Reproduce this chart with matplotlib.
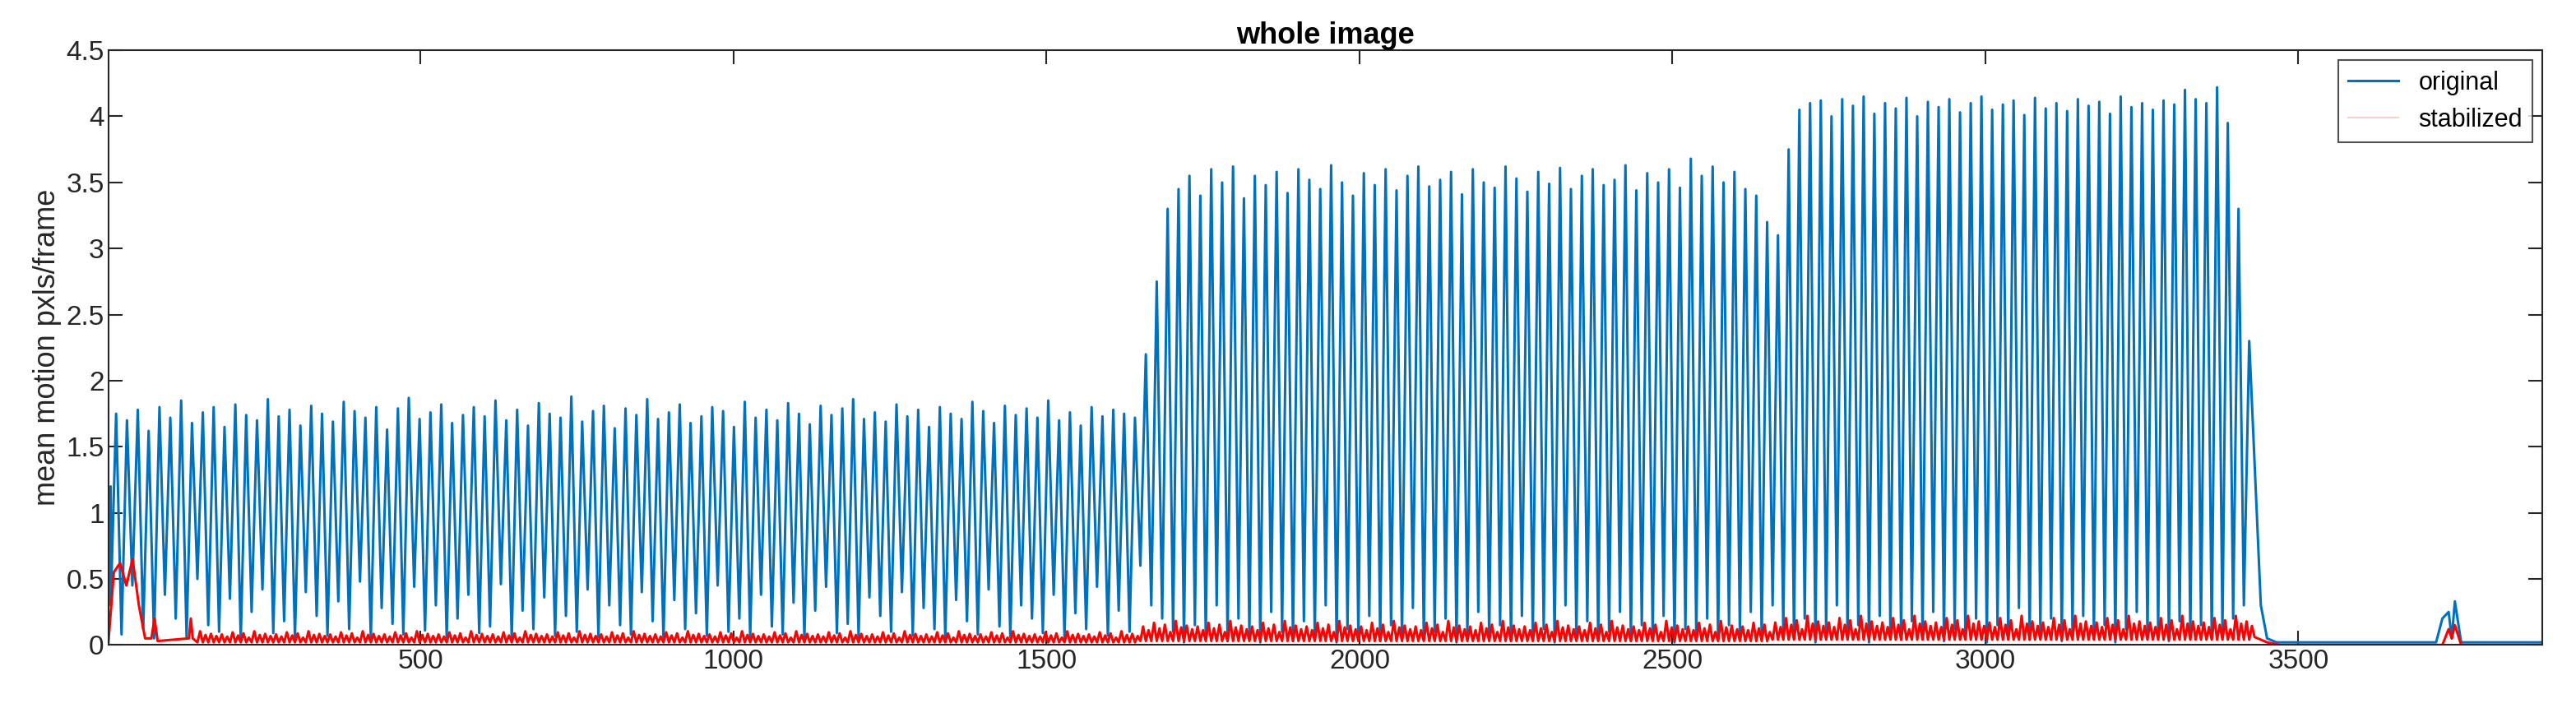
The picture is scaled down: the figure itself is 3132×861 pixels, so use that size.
import numpy as np
import matplotlib
matplotlib.use("Agg")
import matplotlib.pyplot as plt
from matplotlib.lines import Line2D

plt.rcParams['font.family'] = ['Liberation Sans', 'DejaVu Sans']

seg_bounds = [(5, 1650), (1650, 2660), (2660, 3430)]
seg1_peaks = [1.75,1.70,1.78,1.62,1.80,1.72,1.85,1.68,1.76,1.80,1.65,1.82,1.74,1.70,1.86,1.73,1.78,1.66,1.81,1.75,
1.69,1.84,1.77,1.72,1.80,1.63,1.79,1.87,1.71,1.76,1.82,1.68,1.74,1.80,1.73,1.85,1.70,1.78,1.66,1.83,
1.75,1.72,1.88,1.69,1.77,1.81,1.64,1.79,1.74,1.86,1.71,1.76,1.82,1.68,1.73,1.80,1.77,1.65,1.84,1.72,
1.78,1.70,1.83,1.75,1.67,1.81,1.74,1.79,1.86,1.71,1.76,1.69,1.82,1.73,1.78,1.65,1.80,1.75,1.71,1.84,
1.77,1.68,1.81,1.74,1.79,1.72,1.85,1.70,1.76,1.66,1.80,1.73,1.78,1.75,1.72]
seg1_troughs = [0.30,0.08,0.45,0.12,0.05,0.38,0.20,0.06,0.50,0.15,0.10,0.35,0.04,0.25,0.42,0.09,0.18,0.06,0.40,0.22,
0.07,0.33,0.12,0.48,0.05,0.28,0.16,0.08,0.44,0.11,0.30,0.06,0.20,0.38,0.09,0.14,0.46,0.05,0.26,0.12,
0.36,0.07,0.22,0.10,0.42,0.06,0.30,0.15,0.08,0.40,0.18,0.05,0.34,0.12,0.24,0.07,0.45,0.10,0.20,0.06,
0.38,0.14,0.08,0.32,0.05,0.26,0.44,0.09,0.16,0.06,0.36,0.22,0.10,0.40,0.07,0.28,0.12,0.05,0.34,0.18,
0.08,0.42,0.14,0.06,0.30,0.20,0.09,0.38,0.05,0.24,0.12,0.44,0.07,0.26,0.10]
seg2_peaks = [2.20,2.75,3.30,3.45,3.55,3.40,3.60,3.50,3.62,3.38,3.55,3.48,3.58,3.42,3.60,3.52,3.45,3.63,3.50,3.40,
3.57,3.48,3.60,3.44,3.55,3.62,3.47,3.52,3.58,3.41,3.60,3.50,3.46,3.62,3.53,3.43,3.58,3.49,3.61,3.45,
3.55,3.60,3.48,3.52,3.63,3.44,3.57,3.50,3.60,3.46,3.68,3.55,3.62,3.50,3.58,3.45,3.40,3.20]
seg2_troughs = [0.6,0.3,0.2,0.1,0.02,0.15,0.05,0.3,0.03,0.2,0.08,0.02,0.25,0.1,0.03,0.18,0.05,0.3,0.02,0.12,
0.06,0.22,0.03,0.15,0.05,0.28,0.04,0.1,0.2,0.02,0.08,0.25,0.05,0.15,0.03,0.22,0.06,0.12,0.02,0.3,
0.05,0.18,0.04,0.1,0.25,0.03,0.15,0.06,0.22,0.02,0.12,0.05,0.2,0.04,0.15,0.08,0.25,0.05]
seg3_peaks = [3.10,3.75,4.05,4.10,4.12,4.00,4.13,4.08,4.15,4.02,4.10,4.06,4.14,4.00,4.11,4.07,4.13,4.03,4.10,4.15,
4.05,4.09,4.12,4.01,4.14,4.06,4.10,4.04,4.13,4.08,4.11,4.02,4.15,4.07,4.10,4.05,4.12,4.09,4.20,4.13,
4.10,4.22,3.95,3.30,2.30]
seg3_troughs = [0.3,0.1,0.05,0.2,0.02,0.1,0.3,0.05,0.15,0.02,0.22,0.08,0.04,0.18,0.05,0.25,0.03,0.12,0.06,0.2,
0.02,0.15,0.05,0.28,0.04,0.1,0.2,0.03,0.08,0.22,0.05,0.15,0.02,0.12,0.25,0.05,0.1,0.03,0.18,0.06,
0.15,0.05,0.1,0.2,0.3]
head_x = [1, 5]
head_y = [1.1, 1.2]
tail_x = [3440, 3450, 3465, 3720, 3730, 3740, 3745, 3750, 3760, 3890]
tail_y = [0.3, 0.05, 0.02, 0.02, 0.2, 0.25, 0.05, 0.33, 0.02, 0.02]

red_head_x = [1, 10, 20, 30, 40, 50, 60, 70, 75, 80, 130, 133, 136]
red_head_y = [0.0, 0.55, 0.62, 0.45, 0.65, 0.3, 0.05, 0.05, 0.2, 0.03, 0.05, 0.2, 0.05]
red_seg_peaks = [0.08, 0.14, 0.17]
red_seg_troughs = [0.02, 0.03, 0.04]
red_var = [1.0, 0.8, 1.2, 0.9, 1.1, 0.7, 1.3, 0.95, 1.05, 0.85]
red_tail_x = [3430, 3450, 3470, 3730, 3740, 3745, 3750, 3760, 3890]
red_tail_y = [0.06, 0.02, 0.0, 0.0, 0.12, 0.05, 0.15, 0.0, 0.0]

segs = [(seg1_peaks, seg1_troughs), (seg2_peaks, seg2_troughs), (seg3_peaks, seg3_troughs)]
kx, ky = list(head_x), list(head_y)
rx, ry = list(red_head_x), list(red_head_y)
for si, ((a, b), (P, T)) in enumerate(zip(seg_bounds, segs)):
    L = (b - a) / len(P)
    for i, (p, t) in enumerate(zip(P, T)):
        c = a + i * L
        kx += [c, c + 0.5 * L]
        ky += [t, p]
    n = int(round((b - a) / (L / 2)))
    for j in range(n):
        c = a + j * L / 2
        if c < 140:
            continue
        v = red_var[j % len(red_var)]
        rx += [c, c + L / 4]
        ry += [red_seg_troughs[si], red_seg_peaks[si] * v]
kx += tail_x
ky += tail_y
rx += red_tail_x
ry += red_tail_y

blue = (0, 0.447, 0.741)
fig = plt.figure(figsize=(31.32, 8.61), dpi=100)
ax = fig.add_axes([0.042, 0.089, 0.945, 0.84])
ax.plot(kx, ky, color=blue, lw=2.2)
ax.plot(rx, ry, color='red', lw=2.2)
ax.set_xlim(1, 3890)
ax.set_ylim(0, 4.5)
ax.set_xticks([500, 1000, 1500, 2000, 2500, 3000, 3500])
ax.set_yticks(np.arange(0, 4.51, 0.5))
ax.set_yticklabels(['0', '0.5', '1', '1.5', '2', '2.5', '3', '3.5', '4', '4.5'])
ax.tick_params(direction='in', length=12, labelsize=24, top=True, right=True, colors='#262626', width=1.5)
for s in ax.spines.values():
    s.set_color('#262626'); s.set_linewidth(1.5)
ax.set_ylabel('mean motion pxls/frame', fontsize=26, color='#262626')
ax.set_title('whole image', fontsize=26, fontweight='bold')
handles = [Line2D([], [], color=blue, lw=2.2), Line2D([], [], color='#ffcccc', lw=1.5)]
leg = ax.legend(handles, ['original', 'stabilized'], loc='upper right', fontsize=22,
                fancybox=False, edgecolor='#262626', borderaxespad=0.4)
leg.get_frame().set_linewidth(1.5)
fig.savefig('out.png', dpi=100)
